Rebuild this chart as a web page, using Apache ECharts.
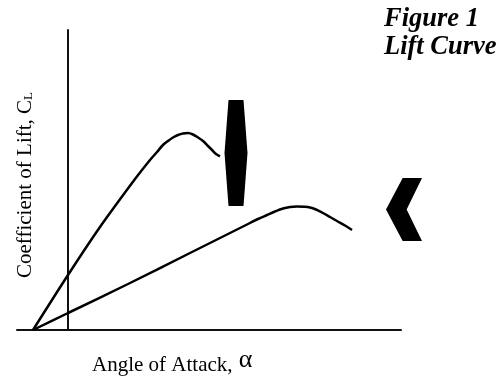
<!DOCTYPE html>
<html>
<head>
<meta charset="utf-8">
<style>html,body{margin:0;padding:0;background:#fff}</style>
<script src="https://cdn.jsdelivr.net/npm/echarts@6/dist/echarts.min.js"></script>
</head>
<body>
<div id="main" style="width:500px;height:376px"></div>
<script>
// x = angle of attack, y = lift, both in plot units
var steepCurve = [[-35,0],[0,55],[32,103],[67,151],[74,160],[82,170],[89,178],[95,185],[100,189],[105,192.5],[110,195],[115,196.5],[120,197],[125,195.5],[130,192.5],[135,189],[140,184],[144,180],[148,176],[152,173.7]];
var flatCurve = [[-35,0],[0,17],[60,46],[120,76],[182,107],[190,111],[199,115],[207,118.5],[215,121.5],[222,123],[229,123.5],[236,123.2],[242,122.5],[248,120.5],[254,117.5],[262,113],[269,109],[277,104.5],[284,100]];
var lensMark = [[168,177]];
var chevronMark = [[336,120.5]];

var lensPath = 'path://M4 0L19 0L23 53L19 106L4 106L0 53Z';
var chevronPath = 'path://M50 0L108 0L62 94L108 188L50 188L0 94Z';

var myChart = echarts.init(document.getElementById('main'), null, {renderer: 'canvas'});
var axisLine = {show: true, onZero: true, lineStyle: {color: '#111', width: 2}};

var option = {
    animation: false,
    backgroundColor: '#fff',
    grid: {left: 17, right: 99, top: 30, bottom: 46},
    xAxis: {
        type: 'value', min: -51, max: 333,
        axisLine: axisLine, axisTick: {show: false}, axisLabel: {show: false}, splitLine: {show: false}
    },
    yAxis: {
        type: 'value', min: 0, max: 300,
        axisLine: axisLine, axisTick: {show: false}, axisLabel: {show: false}, splitLine: {show: false}
    },
    series: [
        {name: 'steep', type: 'line', data: steepCurve, smooth: 0.3, showSymbol: false, lineStyle: {color: '#000', width: 2.5}},
        {name: 'flat', type: 'line', data: flatCurve, smooth: 0.3, showSymbol: false, lineStyle: {color: '#000', width: 2.5}},
        {name: 'lens', type: 'scatter', data: lensMark, clip: false, symbol: lensPath, symbolSize: [23, 106], symbolKeepAspect: false, itemStyle: {color: '#000', opacity: 1}},
        {name: 'chevron', type: 'scatter', data: chevronMark, clip: false, symbol: chevronPath, symbolSize: [36, 63], symbolKeepAspect: false, itemStyle: {color: '#000', opacity: 1}}
    ],
    graphic: [
        {type: 'text', left: 384, top: 6, style: {text: 'Figure 1', font: 'italic bold 26.5px "Liberation Serif"', fill: '#000'}},
        {type: 'text', left: 384, top: 34, style: {text: 'Lift Curve', font: 'italic bold 26.5px "Liberation Serif"', fill: '#000'}},
        {type: 'text', left: 92, top: 347, style: {
            rich: {t: {font: '21px "Liberation Serif"', fill: '#000'}, a: {font: '26px "Liberation Serif"', fill: '#000', padding: [0, 0, 10, 1]}},
            text: '{t|Angle of Attack, }{a|α}'
        }},
        {type: 'text', x: 14.5, y: 278, rotation: Math.PI / 2, style: {
            rich: {t: {font: '21px "Liberation Serif"', fill: '#000'}, s: {font: '13px "Liberation Serif"', fill: '#000', verticalAlign: 'bottom', padding: [7, 0, 0, 0]}},
            text: '{t|Coefficient of Lift, C}{s|L}'
        }}
    ]
};
myChart.setOption(option);
</script>
</body>
</html>
